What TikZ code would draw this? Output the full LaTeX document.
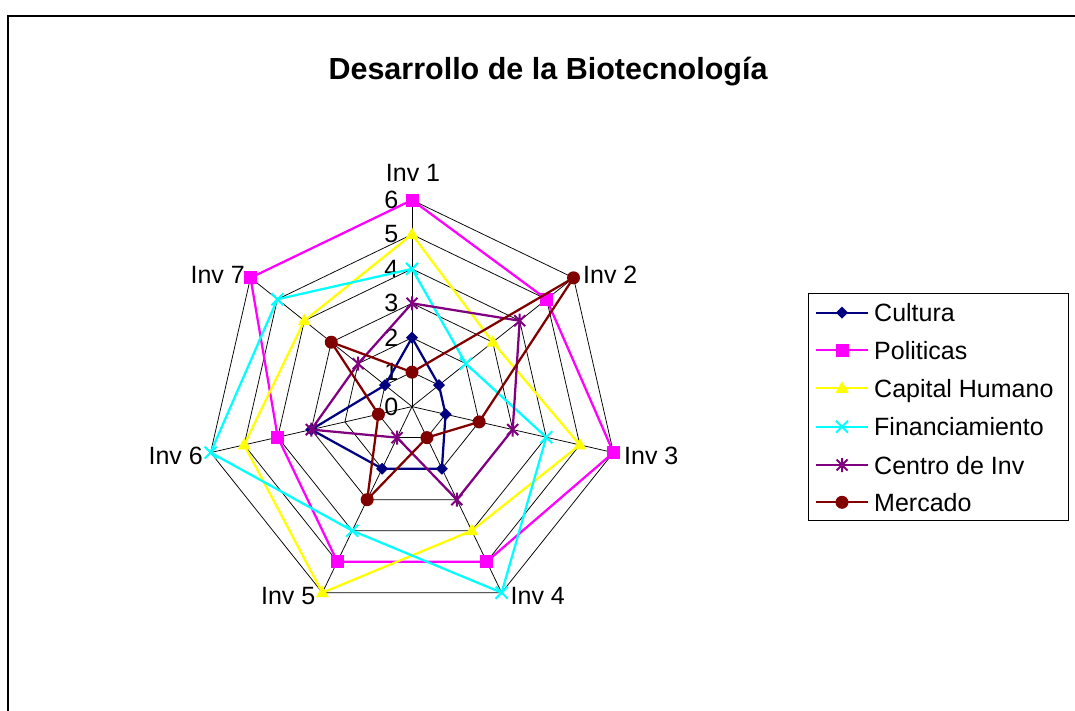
\documentclass[tikz,border=0pt]{standalone}
\usepackage{fontspec}
\setmainfont{Liberation Sans}
\usetikzlibrary{calc}
\definecolor{cnavy}{RGB}{0,0,128}
\definecolor{cmag}{RGB}{255,0,255}
\definecolor{cyel}{RGB}{255,255,0}
\definecolor{ccyan}{RGB}{0,255,255}
\definecolor{cpurp}{RGB}{128,0,128}
\definecolor{cred}{RGB}{128,0,0}
\def\ru{34.43}
\newcommand\radarpts[8]{%
  \coordinate (#1-1) at ($(O)+(90:#2*\ru)$);
  \coordinate (#1-2) at ($(O)+(38.5714:#3*\ru)$);
  \coordinate (#1-3) at ($(O)+(-12.8571:#4*\ru)$);
  \coordinate (#1-4) at ($(O)+(-64.2857:#5*\ru)$);
  \coordinate (#1-5) at ($(O)+(-115.7143:#6*\ru)$);
  \coordinate (#1-6) at ($(O)+(-167.1429:#7*\ru)$);
  \coordinate (#1-7) at ($(O)+(141.4286:#8*\ru)$);
}
\tikzset{
  grid/.style={draw=black, line width=0.75pt},
  ser/.style={line width=2.25pt, line join=round},
  lbl/.style={font=\fontsize{25}{30}\selectfont, inner sep=0pt},
  frame/.style={draw=black, line width=2pt},
  legbox/.style={draw=black, line width=0.9pt},
  mdia/.pic={\fill[cnavy] (0,6)--(6,0)--(0,-6)--(-6,0)--cycle;},
  msq/.pic={\fill[cmag] (-6.5,-6.5) rectangle (6.5,6.5);},
  mtri/.pic={\fill[cyel] (0,7)--(6.5,-4.5)--(-6.5,-4.5)--cycle;},
  mx/.pic={\draw[ccyan, line width=2pt] (-6,-6)--(6,6) (-6,6)--(6,-6);},
  mstar/.pic={\draw[cpurp, line width=2pt] (-5.5,-5.5)--(5.5,5.5) (-5.5,5.5)--(5.5,-5.5) (0,-7)--(0,7);},
  mcirc/.pic={\fill[cred] (0,0) circle (6.5);}
}
\begin{document}
\begin{tikzpicture}[x=1pt,y=1pt]
\useasboundingbox (0,-711) rectangle (1075,0);
% outer frame
\coordinate (fr1) at (8.3,-711);
\coordinate (fr2) at (8.3,-15.7);
\coordinate (fr3) at (1075,-15.7);
\draw[frame] (fr1) -- (fr2) -- (fr3);
% title
\node[font=\bfseries\fontsize{30.5}{36}\selectfont, anchor=base, inner sep=0pt] (title) at (548,-80) {Desarrollo de la Biotecnología};
% grid
\coordinate (O) at (412,-406.6);
\radarpts{ax}{6}{6}{6}{6}{6}{6}{6}
\foreach \l in {1,...,6}{
  \draw[grid] ($(O)!\l/6!(ax-1)$) -- ($(O)!\l/6!(ax-2)$) -- ($(O)!\l/6!(ax-3)$) -- ($(O)!\l/6!(ax-4)$) -- ($(O)!\l/6!(ax-5)$) -- ($(O)!\l/6!(ax-6)$) -- ($(O)!\l/6!(ax-7)$) -- cycle;
}
\foreach \k in {1,...,7}{ \draw[grid] (O) -- (ax-\k); }
% value labels
\foreach \l in {0,...,6}{
  \node[lbl, anchor=east] (val\l) at ($(O)+(-13.5,\l*\ru)$) {\l};
}
% axis labels
\node[lbl, anchor=base] (inv1) at (413,-182) {Inv 1};
\node[lbl, anchor=base west] (inv2) at (583,-283) {Inv 2};
\node[lbl, anchor=base west] (inv3) at (624,-464) {Inv 3};
\node[lbl, anchor=base west] (inv4) at (510.5,-604) {Inv 4};
\node[lbl, anchor=base east] (inv5) at (315.5,-604) {Inv 5};
\node[lbl, anchor=base east] (inv6) at (203,-464) {Inv 6};
\node[lbl, anchor=base east] (inv7) at (245,-283) {Inv 7};
% data
\radarpts{cu}{2}{1}{1}{2}{2}{3}{1}
\radarpts{po}{6}{5}{6}{5}{5}{4}{6}
\radarpts{ch}{5}{3}{5}{4}{6}{5}{4}
\radarpts{fi}{4}{2}{4}{6}{4}{6}{5}
\radarpts{ce}{3}{4}{3}{3}{1}{3}{2}
\radarpts{me}{1}{6}{2}{1}{3}{1}{3}
\foreach \s/\c/\m in {cu/cnavy/mdia, po/cmag/msq, ch/cyel/mtri, fi/ccyan/mx, ce/cpurp/mstar, me/cred/mcirc}{
  \draw[ser, draw=\c] (\s-1) -- (\s-2) -- (\s-3) -- (\s-4) -- (\s-5) -- (\s-6) -- (\s-7) -- cycle;
  \foreach \i in {1,...,7}{ \pic at (\s-\i) {\m}; }
}
% legend
\coordinate (lb1) at (808.3,-293.3);
\coordinate (lb2) at (1068.3,-520.7);
\draw[legbox] (lb1) rectangle (lb2);
\foreach \y/\c/\m/\t [count=\k] in {312.7/cnavy/mdia/Cultura, 350/cmag/msq/Politicas, 388.3/cyel/mtri/Capital Humano, 426.7/ccyan/mx/Financiamiento, 465/cpurp/mstar/Centro de Inv, 502.3/cred/mcirc/Mercado}{
  \coordinate (lgA\k) at (816,-\y);
  \coordinate (lgB\k) at (868,-\y);
  \coordinate (lgM\k) at (842,-\y);
  \draw[ser, draw=\c] (lgA\k) -- (lgB\k);
  \pic at (lgM\k) {\m};
  \node[lbl, anchor=base west] (lgT\k) at ($(874,-\y)+(0,-9)$) {\t};
}
\end{tikzpicture}
\end{document}
